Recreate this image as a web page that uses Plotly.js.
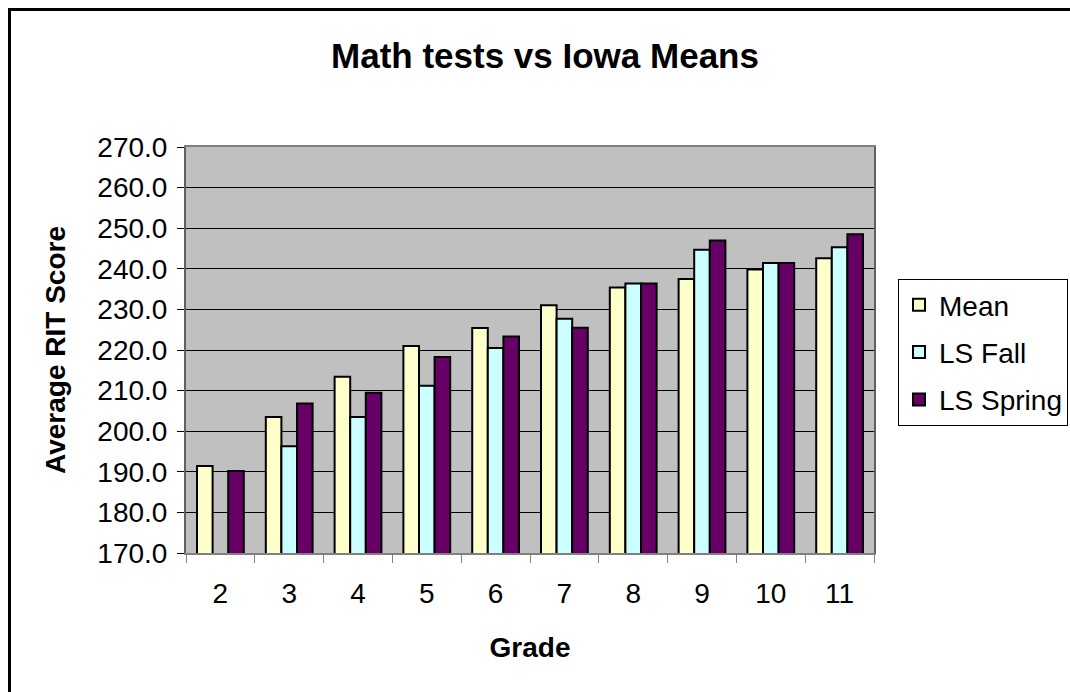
<!DOCTYPE html>
<html>
<head>
<meta charset="utf-8">
<script src="https://cdn.plot.ly/plotly-3.0.1.min.js"></script>
<style>
html,body{margin:0;padding:0;background:#fff;overflow:hidden;}
#chart{width:1070px;height:692px;}
</style>
</head>
<body>
<div id="chart"></div>
<script>
const grades = ["2","3","4","5","6","7","8","9","10","11"];
const meanVals = [191.4, 203.5, 213.4, 221.0, 225.4, 231.0, 235.4, 237.5, 239.8, 242.6];
const fallVals = [null, 196.3, 203.5, 211.2, 220.5, 227.7, 236.4, 244.7, 241.4, 245.3];
const springVals = [190.2, 206.8, 209.5, 218.3, 223.3, 225.5, 236.4, 247.0, 241.4, 248.5];
const seriesNames = ["Mean", "LS Fall", "LS Spring"];
const seriesColors = ["#FFFFCC", "#CCFFFF", "#660066"];
const yTicks = [170,180,190,200,210,220,230,240,250,260,270];

const W = 1070, H = 692;
const L = 186, R = 874, T = 147, B = 553;
const px2x = p => (p - L) / (R - L);
const px2y = p => (B - p) / (B - T);

const traces = [meanVals, fallVals, springVals].map((vals, i) => ({
  type: 'bar',
  name: seriesNames[i],
  x: grades,
  y: vals,
  legendgroup: 'g' + i,
  marker: {color: seriesColors[i], line: {color: '#000', width: 2}},
  hoverinfo: 'x+y+name'
}));

const layout = {
  width: W, height: H,
  margin: {l: L, r: W - R, t: T, b: H - B, pad: 0, autoexpand: false},
  paper_bgcolor: '#fff',
  plot_bgcolor: '#C0C0C0',
  barmode: 'group',
  bargap: 0.32,
  bargroupgap: 0,
  font: {family: 'Arial, "Liberation Sans", sans-serif', color: '#000', size: 28},
  title: {
    text: '<b>Math tests vs Iowa Means</b>',
    font: {size: 35, color: '#000'},
    xref: 'container', yref: 'container',
    x: 545 / W, xanchor: 'center',
    y: 1 - 56 / H, yanchor: 'middle'
  },
  xaxis: {
    type: 'category',
    showgrid: false,
    showline: true, linecolor: '#808080', linewidth: 2, mirror: true,
    ticks: 'outside', ticklen: 8, tickcolor: '#808080', tickwidth: 1,
    tickson: 'boundaries',
    tickfont: {size: 28},
    ticklabelstandoff: 14,
    title: {text: '<b>Grade</b>', font: {size: 28}, standoff: 30},
    automargin: false
  },
  yaxis: {
    range: [170, 270],
    tickvals: yTicks,
    ticktext: yTicks.map(v => v.toFixed(1)),
    showgrid: true, gridcolor: '#000', gridwidth: 1,
    showline: true, linecolor: '#606060', linewidth: 2, mirror: true,
    ticks: 'outside', ticklen: 7, tickcolor: '#000', tickwidth: 1,
    tickfont: {size: 28},
    ticklabelstandoff: 4,
    zeroline: false,
    title: {text: '<b>Average RIT Score</b>', font: {size: 28}, standoff: 24},
    automargin: false
  },
  legend: {
    x: px2x(898), xanchor: 'left',
    y: px2y(279), yanchor: 'top',
    bgcolor: '#fff', bordercolor: '#000', borderwidth: 1,
    font: {size: 28},
    tracegroupgap: 8,
    traceorder: 'grouped'
  },
  showlegend: true,
  shapes: [
    {type: 'line', xref: 'paper', yref: 'paper', x0: px2x(8), x1: px2x(1075), y0: px2y(9.5), y1: px2y(9.5), line: {color: '#000', width: 3}},
    {type: 'line', xref: 'paper', yref: 'paper', x0: px2x(9.5), x1: px2x(9.5), y0: px2y(8), y1: px2y(700), line: {color: '#000', width: 3}}
  ]
};

Plotly.newPlot('chart', traces, layout, {displayModeBar: false, staticPlot: true});
</script>
</body>
</html>
